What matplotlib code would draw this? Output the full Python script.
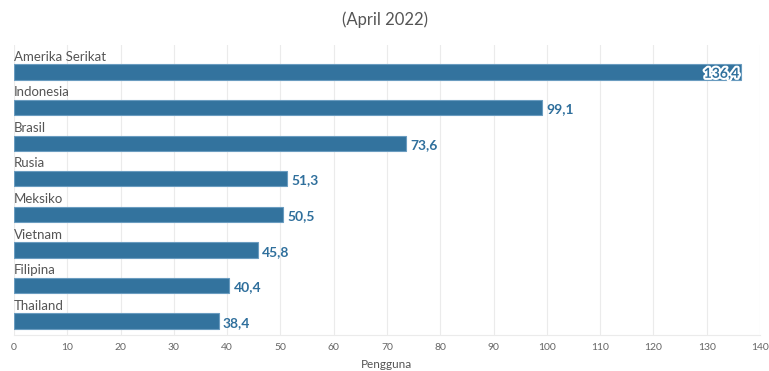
import matplotlib
matplotlib.use("Agg")
import matplotlib.pyplot as plt
import matplotlib.patheffects as pe

categories = ["Amerika Serikat", "Indonesia", "Brasil", "Rusia", "Meksiko", "Vietnam", "Filipina", "Thailand"]
values = [136.4, 99.1, 73.6, 51.3, 50.5, 45.8, 40.4, 38.4]
value_labels = ["136,4", "99,1", "73,6", "51,3", "50,5", "45,8", "40,4", "38,4"]
xticks = list(range(0, 141, 10))
title = "(April 2022)"
xlabel = "Pengguna"

plt.rcParams['font.family'] = ['Lato', 'DejaVu Sans']

W, H = 769, 371
fig = plt.figure(figsize=(W / 100, H / 100), dpi=100)
ax_left, ax_right = 14, 760
ax_top, ax_bottom = 45, 335
ax = fig.add_axes([ax_left / W, 1 - ax_bottom / H, (ax_right - ax_left) / W, (ax_bottom - ax_top) / H])

bar_color = "#33739e"
label_color = "#2f6f9c"
pos = list(range(len(categories)))
ax.barh(pos, values, height=0.43, color=bar_color, edgecolor="#6a9cc0", linewidth=0.8, zorder=3)

for i, (v, lab, cat) in enumerate(zip(values, value_labels, categories)):
    ax.text(0, i - 0.43, cat, ha="left", va="center", fontsize=9.5, color="#555555", zorder=4)
    if v == max(values):
        t = ax.text(v - 0.3, i + 0.05, lab, ha="right", va="center", fontsize=10, fontweight="bold",
                    color=label_color, zorder=5)
        t.set_path_effects([pe.withStroke(linewidth=3, foreground="white")])
    else:
        ax.text(v + 0.8, i + 0.05, lab, ha="left", va="center", fontsize=10, fontweight="bold",
                color=label_color, zorder=5)

ax.set_xlim(0, 140)
ax.set_ylim(7.39, -0.76)
ax.set_xticks(xticks)
ax.set_xticklabels([str(t) for t in xticks], fontsize=7.5, color="#666666")
ax.set_yticks([])
ax.tick_params(axis="x", length=0, pad=6)
ax.grid(axis="x", color="#ebebeb", linewidth=0.8, zorder=0)
for s in ["top", "right", "left"]:
    ax.spines[s].set_visible(False)
ax.spines["bottom"].set_color("#ebebeb")
ax.spines["bottom"].set_linewidth(0.8)

fig.text((ax_left + ax_right) / 2 / W, 1 - 365 / H, xlabel, ha="center", va="center", fontsize=8.5, color="#555555")
fig.text(0.5, 1 - 20 / H, title, ha="center", va="center", fontsize=12, color="#555555")

fig.savefig("out.png", dpi=100)
